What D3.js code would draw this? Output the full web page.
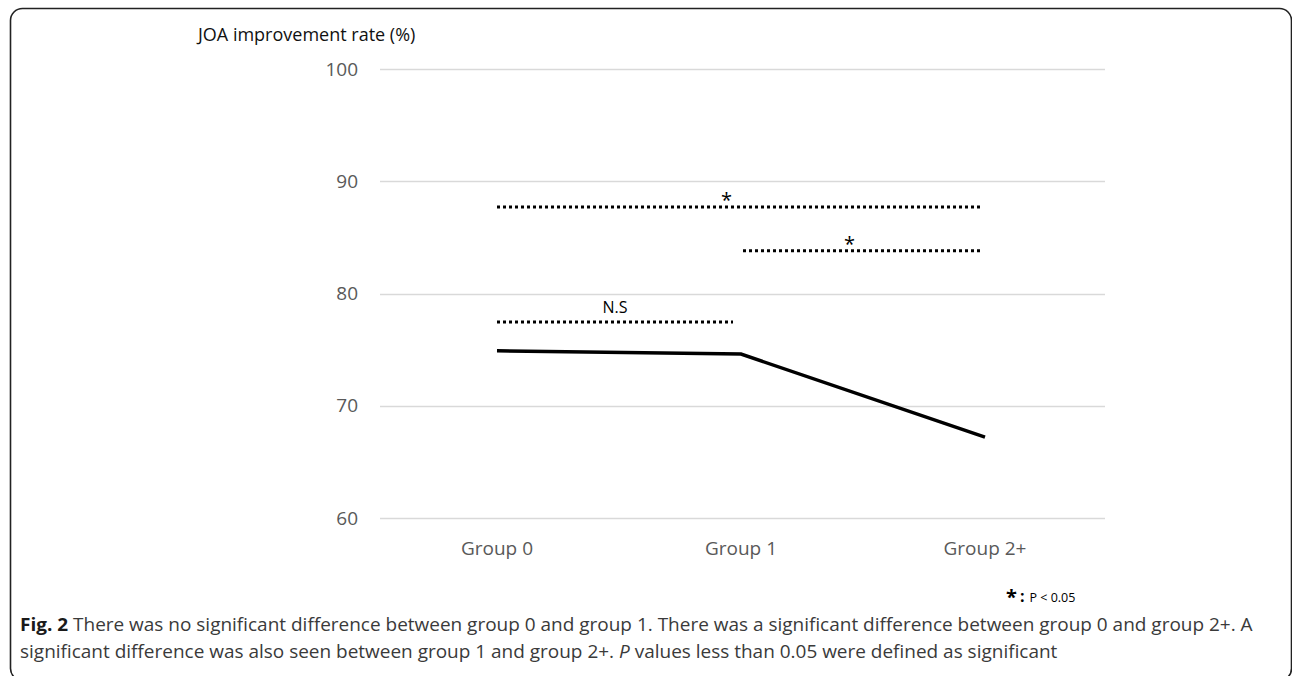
<!DOCTYPE html>
<html>
<head>
<meta charset="utf-8">
<script src="https://cdn.jsdelivr.net/npm/d3@7"></script>
<style>
  html, body { margin: 0; padding: 0; background: #fff; }
  svg { display: block; }
</style>
</head>
<body>
<svg id="chart" width="1292" height="676"></svg>
<script>
// Mean JOA improvement rate per group
const categories = ["Group 0", "Group 1", "Group 2+"];
const joaRate = [74.9, 74.6, 67.2];
const yTicks = [60, 70, 80, 90, 100];

// Significance brackets: from group, to group, height, label
const bracketFrom = ["Group 0", "Group 0", "Group 1"];
const bracketTo = ["Group 1", "Group 2+", "Group 2+"];
const bracketLevel = [77.45, 87.7, 83.8];
const bracketLabel = ["N.S", "*", "*"];

const svg = d3.select("#chart");

// Rounded outer frame around chart and caption
svg.append("rect")
  .attr("x", 10.5).attr("y", 8.5)
  .attr("width", 1281).attr("height", 672)
  .attr("rx", 12).attr("ry", 12)
  .attr("fill", "none").attr("stroke", "#222").attr("stroke-width", 1.6);

const plot = { left: 375, right: 1107, top: 69, bottom: 518 };

const x = d3.scaleBand().domain(categories).range([plot.left, plot.right]);
const xc = c => x(c) + x.bandwidth() / 2;
const y = d3.scaleLinear().domain([60, 100]).range([plot.bottom, plot.top]);

const chartFont = "'Open Sans', 'Noto Sans', sans-serif";

// Horizontal gridlines
svg.append("g")
  .selectAll("line").data(yTicks).join("line")
  .attr("x1", 380).attr("x2", 1105)
  .attr("y1", d => Math.round(y(d)) + 0.5).attr("y2", d => Math.round(y(d)) + 0.5)
  .attr("stroke", "#d9d9d9").attr("stroke-width", 1.3);

// Y axis labels
const yAxis = svg.append("g").attr("transform", "translate(358,0)")
  .call(d3.axisLeft(y).tickValues(yTicks).tickSize(0).tickPadding(0));
yAxis.select(".domain").remove();
yAxis.selectAll("text")
  .attr("font-family", chartFont).attr("font-size", 19).attr("fill", "#595959");

// X axis labels
const xAxis = svg.append("g").attr("transform", `translate(0,${plot.bottom + 23})`)
  .call(d3.axisBottom(x).tickSize(0).tickPadding(0));
xAxis.select(".domain").remove();
xAxis.selectAll("text")
  .attr("font-family", chartFont).attr("font-size", 19).attr("fill", "#595959");

// Y axis title
svg.append("text")
  .attr("x", 198).attr("y", 41)
  .attr("font-family", chartFont).attr("font-size", 18).attr("fill", "#111")
  .text("JOA improvement rate (%)");

// Significance brackets (dotted)
const brackets = bracketFrom.map((f, i) => ({
  from: f, to: bracketTo[i], level: bracketLevel[i], label: bracketLabel[i]
}));
const bx1 = d => d.from === "Group 0" ? xc(d.from) : xc(d.from) + 2;
const bx2 = d => d.to === "Group 2+" ? xc(d.to) - 5 : xc(d.to) - 8;

svg.append("g").selectAll("line").data(brackets).join("line")
  .attr("x1", bx1).attr("x2", bx2)
  .attr("y1", d => y(d.level)).attr("y2", d => y(d.level))
  .attr("stroke", "#000").attr("stroke-width", 3)
  .attr("stroke-dasharray", "3,3");

svg.append("g").selectAll("text").data(brackets).join("text")
  .attr("x", d => d.label === "N.S" ? (bx1(d) + bx2(d)) / 2 : (bx1(d) + bx2(d)) / 2 - 12)
  .attr("y", d => y(d.level) - (d.label === "N.S" ? 9 : 0))
  .attr("text-anchor", "middle")
  .attr("font-family", chartFont)
  .attr("font-size", d => d.label === "N.S" ? 16 : 20)
  .attr("fill", "#000")
  .text(d => d.label);

// Mean line
const line = d3.line().x((d, i) => xc(categories[i])).y(d => y(d));
svg.append("path")
  .datum(joaRate)
  .attr("d", line)
  .attr("fill", "none").attr("stroke", "#000").attr("stroke-width", 3.5);

// Significance key
const key = svg.append("text")
  .attr("x", 1006).attr("y", 601)
  .attr("font-family", chartFont).attr("fill", "#000");
key.append("tspan").attr("font-size", 20).attr("font-weight", "bold").attr("dy", 3).text("*");
key.append("tspan").attr("font-size", 16).attr("font-weight", "bold").attr("dx", 3).attr("dy", -2).text(":");
key.append("tspan").attr("font-size", 12.5).attr("dx", 5).text("P < 0.05");

// Caption: both lines share the horizontal scale that fits the first line
const capFont = "'Open Sans', 'Noto Sans', sans-serif";
function captionText(parts) {
  const g = svg.append("g");
  const t = g.append("text")
    .attr("x", 0).attr("y", 0)
    .attr("font-family", capFont).attr("font-size", 18.5).attr("fill", "#3a3a3a");
  parts.forEach(p => {
    const s = t.append("tspan").text(p.text);
    if (p.bold) s.attr("font-weight", "bold").attr("fill", "#1a1a1a");
    if (p.italic) s.attr("font-style", "italic");
  });
  return { g, w: t.node().getComputedTextLength() };
}

const cap1 = captionText([
  { text: "Fig. 2", bold: true },
  { text: " There was no significant difference between group 0 and group 1. There was a significant difference between group 0 and group 2+. A" }
]);
const cap2 = captionText([
  { text: "significant difference was also seen between group 1 and group 2+. " },
  { text: "P", italic: true },
  { text: " values less than 0.05 were defined as significant" }
]);
const capScale = 1233 / cap1.w;
cap1.g.attr("transform", `translate(20,631) scale(${capScale},1)`);
cap2.g.attr("transform", `translate(20,658) scale(${capScale},1)`);
</script>
</body>
</html>
